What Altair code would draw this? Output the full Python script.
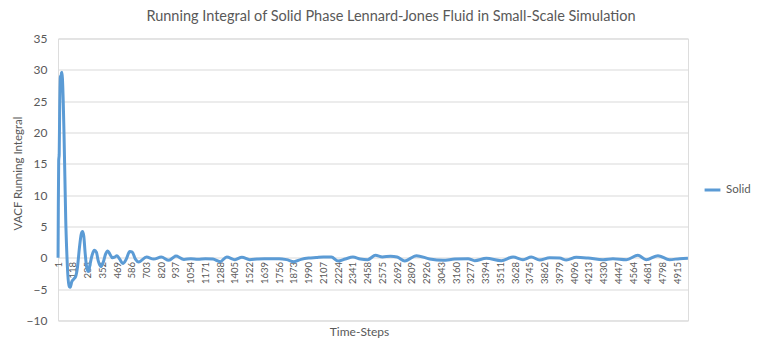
import altair as alt
import pandas as pd

# Time-step positions and running integral values
steps = [1, 3, 6, 10, 14, 20, 24, 28, 32, 36, 42, 48, 55, 62, 70, 78, 90, 98, 110, 125,
         140, 155, 170, 185, 195, 205, 215, 228, 242, 255, 272, 290, 305, 320, 340, 358,
         378, 395, 412, 432, 450, 468, 490, 515, 540, 570, 590, 615, 641, 703, 760, 820,
         880, 937, 1000, 1054, 1110, 1171, 1230, 1288, 1340, 1405, 1460, 1522, 1580, 1639,
         1700, 1756, 1815, 1873, 1930, 1990, 2050, 2107, 2170, 2224, 2280, 2341, 2400, 2458,
         2520, 2575, 2640, 2692, 2753, 2845, 2950, 3056, 3149, 3255, 3308, 3400, 3519, 3612,
         3691, 3757, 3823, 3903, 3982, 4035, 4114, 4207, 4326, 4405, 4511, 4603, 4669, 4762,
         4854, 4934, 5000]
values = [0.0, 8.0, 15.5, 16.5, 24.0, 29.0, 28.0, 29.5, 29.6, 28.5, 25.0, 20.0, 13.0, 6.0,
          1.0, -2.5, -4.6, -4.7, -3.8, -3.4, -3.0, -1.5, 1.5, 3.8, 4.2, 3.5, 1.0, -1.5, -2.2,
          -1.0, 0.5, 1.2, 0.9, -0.5, -1.4, -0.8, 0.6, 1.1, 0.6, 0.0, 0.1, 0.35, -0.2, -0.9,
          -0.3, 1.0, 0.9, -0.2, -0.67, 0.13, -0.2, 0.13, -0.4, 0.29, -0.25, -0.13, -0.24,
          -0.13, -0.19, -0.61, 0.13, -0.29, 0.1, -0.29, -0.19, -0.13, -0.13, -0.13, -0.29,
          -0.61, -0.24, -0.03, 0.05, 0.13, 0.13, -0.51, -0.19, 0.13, -0.19, -0.29, 0.4, 0.15,
          0.24, 0.13, -0.51, 0.35, -0.19, -0.4, -0.19, -0.13, -0.45, -0.08, -0.45, 0.13,
          -0.29, 0.13, -0.35, 0.03, -0.03, -0.35, 0.08, -0.03, -0.29, -0.13, -0.29, 0.4,
          -0.29, 0.35, -0.29, -0.13, -0.08]
series = ["Solid"] * len(steps)
tick_labels = list(range(1, 5001, 117))
y_ticks = [-10, -5, 0, 5, 10, 15, 20, 25, 30, 35]

df = pd.DataFrame({"step": steps, "value": values, "series": series})

FONT = "Lato"
GREY = "#595959"

chart = alt.Chart(df).mark_line(
    strokeWidth=3, interpolate="monotone"
).encode(
    x=alt.X("step:Q",
            scale=alt.Scale(domain=[0.5, 5000.5], nice=False, zero=False),
            axis=alt.Axis(values=tick_labels, format="d", labelAngle=-90, labelAlign="right",
                          labelBaseline="middle", labelFontSize=9.5, labelColor=GREY,
                          labelFont=FONT, labelPadding=4, ticks=False, domain=False,
                          grid=False, offset=-63, labelOverlap=False, labelFlush=False,
                          title="Time-Steps", titleFont=FONT, titleFontSize=12,
                          titleFontWeight="normal", titleColor=GREY, titleX=301, titleY=74,
                          titleAlign="center", titleBaseline="middle")),
    y=alt.Y("value:Q",
            scale=alt.Scale(domain=[-10, 35], nice=False),
            axis=alt.Axis(values=y_ticks, labelFontSize=12, labelColor=GREY, labelFont=FONT,
                          labelPadding=11, ticks=False, domain=False, grid=True,
                          gridColor="#D9D9D9", gridWidth=1,
                          title="VACF Running Integral", titleFont=FONT, titleFontSize=11.5,
                          titleFontWeight="normal", titleColor=GREY, titleX=-40, titleY=134.5,
                          titleAlign="center", titleBaseline="middle", titleAngle=270)),
    color=alt.Color("series:N", scale=alt.Scale(range=["#5B9BD5"]),
                    legend=alt.Legend(title=None, orient="none", legendX=645, legendY=142,
                                      symbolType="stroke", symbolStrokeWidth=3,
                                      symbolSize=250, labelFontSize=11.5, labelFont=FONT,
                                      labelColor=GREY))
).properties(
    width=630, height=282,
    title=alt.TitleParams("Running Integral of Solid Phase Lennard-Jones Fluid in Small-Scale Simulation",
                          font=FONT, fontSize=14.5, fontWeight="normal", color=GREY,
                          anchor="middle", dx=18, offset=8),
    autosize=alt.AutoSizeParams(type="none"),
    padding={"left": 58, "top": 38.5, "right": 76, "bottom": 23.5}
).configure_view(stroke=None).configure(background="white")

chart.save("out.html", embed_options={"renderer": "svg", "actions": False})
